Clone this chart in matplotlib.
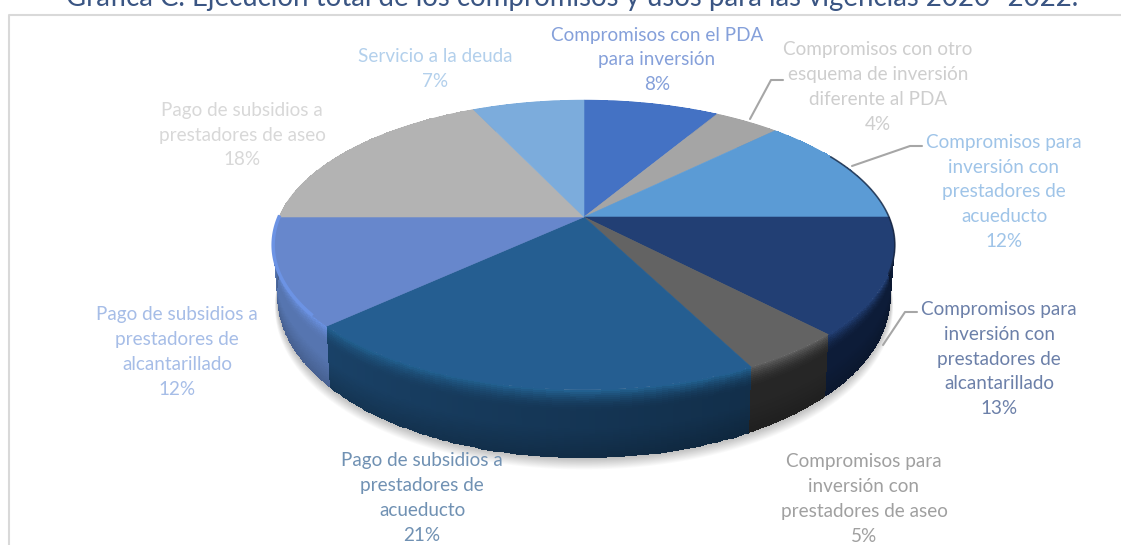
import numpy as np
import matplotlib
matplotlib.use("Agg")
import matplotlib.pyplot as plt
from matplotlib.colors import to_rgb
from matplotlib.patches import Polygon

plt.rcParams['font.family'] = ['Lato', 'DejaVu Sans']

title = "Gráfica C. Ejecución total de los compromisos y usos para las vigencias 2020- 2022."

# clockwise from 12 o'clock
labels = [
    "Compromisos con el PDA\npara inversión",
    "Compromisos con otro\nesquema de inversión\ndiferente al PDA",
    "Compromisos para\ninversión con\nprestadores de\nacueducto",
    "Compromisos para\ninversión con\nprestadores de\nalcantarillado",
    "Compromisos para\ninversión con\nprestadores de aseo",
    "Pago de subsidios a\nprestadores de\nacueducto",
    "Pago de subsidios a\nprestadores de\nalcantarillado",
    "Pago de subsidios a\nprestadores de aseo",
    "Servicio a la deuda",
]
shares = [8.5, 4.1, 12.4, 12.9, 4.6, 20.6, 11.9, 18.0, 7.0]
pct_text = ["8%", "4%", "12%", "13%", "5%", "21%", "12%", "18%", "7%"]

top_colors = ["#4472C4", "#A5A5A5", "#5B9BD5", "#223F74", "#636363",
              "#255E91", "#6787CC", "#B3B3B3", "#7CACDC"]
wall_colors = ["#3A62A8", "#8C8C8C", "#4E85B8", "#0D1C38", "#262626",
               "#1D4A74", "#5675B0", "#9A9A9A", "#6A94BE"]
rim_colors = ["#4472C4", "#A5A5A5", "#5B9BD5", "#223F74", "#5A5A5A",
              "#22608F", "#6C93E4", "#B3B3B3", "#7CACDC"]
text_colors = ["#85A0DA", "#CECECE", "#9FC4E8", "#6C80A9", "#A0A0A0",
               "#7091B3", "#A6BDE7", "#D8D8D8", "#B3D0EC"]
text_pos = [(657, 60), (878, 87), (1004, 192), (999, 359), (864, 499),
            (422, 498), (177, 352), (242, 135), (435, 69)]

# leader lines: slice index -> label anchor
leaders = {1: (783, 80), 2: (922, 146), 3: (917, 312)}
leader_start = {1: (750, 119), 2: (852, 166), 3: (883, 345)}

cx, cy = 584, 217
rx, ry, persp = 305, 139.5, 0.193


def top_xy(theta):
    # theta clockwise from the top, perspective disc with apex at (cx, cy)
    u, v = np.sin(theta), np.cos(theta)
    den = 1 + persp * v
    return cx + rx * u / den, cy - ry * v / den


def bottom_xy(theta):
    x, y = top_xy(theta)
    v = np.cos(theta)
    return cx + (x - cx) * 0.987, y + 46 - 22 * v


def mix(c, other, t):
    return tuple((1 - t) * a + t * b for a, b in zip(to_rgb(c), to_rgb(other)))


fig = plt.figure(figsize=(11.21, 5.45), dpi=100)
ax = fig.add_axes([0, 0, 1, 1])
ax.set_xlim(0, 1121)
ax.set_ylim(545, 0)
ax.axis("off")

# frame only shows on the top and left
ax.plot([8.5, 8.5, 1121], [545, 14.5, 14.5], color="#D9D9D9", lw=1.5, zorder=1)
ax.text(572, 6, title, ha="center", va="baseline", fontsize=19.9, color="#3A5583", zorder=10)

edges = np.radians(np.cumsum([0] + shares) * 3.6)

# soft shadow under the body
ring = np.linspace(np.radians(60), np.radians(300), 200)
for i in range(14):
    sx, sy = bottom_xy(ring)
    sx = cx + (sx - cx) * (1.0 + 0.0006 * i)
    ax.fill(sx, sy + i * 0.9, color="black", alpha=0.018, lw=0, zorder=2)

# side walls, drawn from the back towards the front
order = sorted(range(len(shares)), key=lambda k: np.cos((edges[k] + edges[k + 1]) / 2), reverse=True)
depth_s = np.linspace(0, 1, 36)
for k in order:
    th = np.linspace(edges[k], edges[k + 1], 80)
    xa, ya = top_xy(th)
    xb, yb = bottom_xy(th)
    X = np.outer(1 - depth_s, xa) + np.outer(depth_s, xb)
    Y = np.outer(1 - depth_s, ya) + np.outer(depth_s, yb)
    rgb = np.zeros((len(depth_s) - 1, len(th) - 1, 3))
    for r in range(len(depth_s) - 1):
        s = depth_s[r]
        for c in range(len(th) - 1):
            # acueducto slice goes darker towards the right
            side = np.clip((np.sin(th[c]) + 1) / 2, 0, 1)
            col = to_rgb(wall_colors[k])
            if k == 5:
                col = mix(wall_colors[k], "#0F2840", side ** 0.7)
            if s < 0.3:
                col = mix(col, rim_colors[k], (1 - s / 0.3) ** 1.8)
            elif s > 0.55:
                col = mix(col, "black", 0.18 * (s - 0.55) / 0.45)
            rgb[r, c] = col
    ax.pcolormesh(X, Y, rgb, shading="flat", antialiased=False, linewidth=0, zorder=3)

# top face
for k in range(len(shares)):
    th = np.linspace(edges[k], edges[k + 1], 80)
    xa, ya = top_xy(th)
    pts = np.column_stack([np.r_[cx, xa], np.r_[cy, ya]])
    ax.add_patch(Polygon(pts, closed=True, fc=top_colors[k], ec=top_colors[k], lw=0.4, zorder=4))

# dark edge on the right of the disc, bright one on the left
th = np.radians(np.linspace(62, 112, 60))
ax.plot(*top_xy(th), color="#16233C", lw=1.2, alpha=0.75, zorder=5)
th = np.radians(np.linspace(232, 270, 60))
ax.plot(*top_xy(th), color="#6C93E4", lw=2.5, zorder=5)

# leader lines
for k, end in leaders.items():
    st = leader_start[k]
    ax.plot([st[0], end[0] - 12, end[0]], [st[1], end[1], end[1]], color="#A6A6A6", lw=1.5,
            solid_capstyle="round", solid_joinstyle="round", zorder=5)

for name, pct, pos, col in zip(labels, pct_text, text_pos, text_colors):
    ax.text(pos[0], pos[1], name + "\n" + pct, ha="center", va="center", color=col,
            fontsize=13.6, linespacing=1.56, zorder=6)

fig.savefig("out.png", dpi=100)
